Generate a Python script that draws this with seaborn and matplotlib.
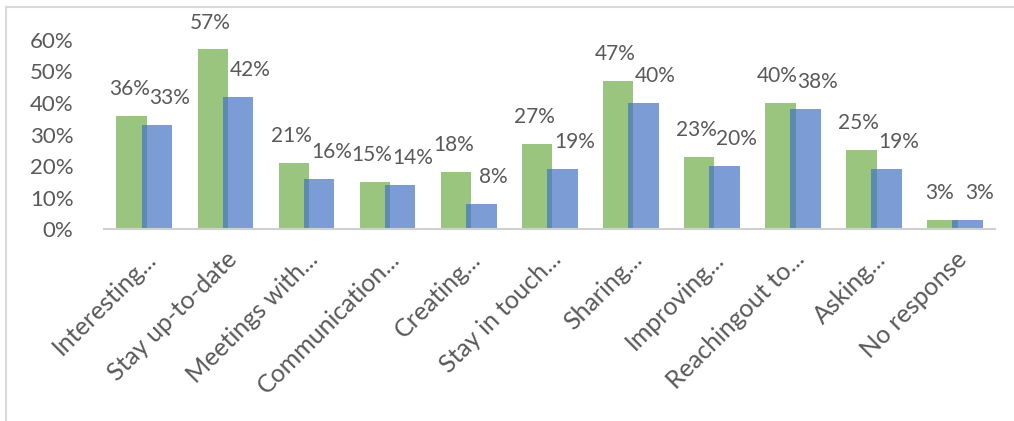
import numpy as np
import pandas as pd
import matplotlib
matplotlib.use("Agg")
import matplotlib.pyplot as plt
import matplotlib.transforms as mtransforms
from matplotlib.lines import Line2D
import seaborn as sns

categories = ["Interesting...", "Stay up-to-date", "Meetings with...", "Communication...",
              "Creating...", "Stay in touch...", "Sharing...", "Improving...",
              "Reachingout to...", "Asking...", "No response"]
series_a = [36, 57, 21, 15, 18, 27, 47, 23, 40, 25, 3]   # green
series_b = [33, 42, 16, 14, 8, 19, 40, 20, 38, 19, 3]    # blue
yticks = [0, 10, 20, 30, 40, 50, 60]

sns.set_style("white")
plt.rcParams['font.family'] = ['Lato', 'DejaVu Sans']
TXT = "#595959"

fig = plt.figure(figsize=(10.14, 4.21), dpi=100)
ax = fig.add_axes([0.1025, 0.456, 0.879, 0.449])

idx = np.arange(len(categories))
shift = 0.155
df_a = pd.DataFrame({"pos": idx - shift, "val": series_a})
df_b = pd.DataFrame({"pos": idx + shift, "val": series_b})

sns.barplot(data=df_a, x="pos", y="val", native_scale=True, width=0.38,
            color="#70AD47", alpha=0.7, saturation=1, ax=ax, errorbar=None, linewidth=0)
n_a = len(ax.patches)
sns.barplot(data=df_b, x="pos", y="val", native_scale=True, width=0.38,
            color="#4472C4", alpha=0.7, saturation=1, ax=ax, errorbar=None, linewidth=0)

for i, p in enumerate(ax.patches):
    h = p.get_height()
    xc = p.get_x() + p.get_width() / 2
    dx = -2 if i < n_a else 9
    ax.annotate(f"{h:.0f}%", (xc, h), xytext=(dx, 15), textcoords="offset points",
                ha="center", va="baseline", fontsize=15, color=TXT, annotation_clip=False)

ax.set_xlim(-0.5, len(categories) - 0.5)
ax.set_ylim(0, 60)
ax.set_yticks(yticks)
ax.set_yticklabels([f"{t}%" for t in yticks], fontsize=16, color=TXT)
ax.set_xticks(idx)
ax.set_xticklabels(categories, rotation=45, ha="right", rotation_mode="anchor",
                   fontsize=18, color=TXT)
offset = mtransforms.ScaledTranslation(6 / 72, 0, fig.dpi_scale_trans)
for lab in ax.get_xticklabels():
    lab.set_transform(lab.get_transform() + offset)
ax.tick_params(axis="y", length=0, pad=22)
ax.tick_params(axis="x", length=0, pad=13)
ax.set_xlabel("")
ax.set_ylabel("")
for s in ["top", "right", "left"]:
    ax.spines[s].set_visible(False)
ax.spines["bottom"].set_color("#D0D0D0")
ax.spines["bottom"].set_linewidth(1.5)

# outer chart frame (top and left edges visible)
fig.add_artist(Line2D([0.006, 1.0], [0.983, 0.983], transform=fig.transFigure,
                      color="#D9D9D9", lw=1.5))
fig.add_artist(Line2D([0.006, 0.006], [0.0, 0.983], transform=fig.transFigure,
                      color="#D9D9D9", lw=1.5))

fig.savefig("out.png", dpi=100)
